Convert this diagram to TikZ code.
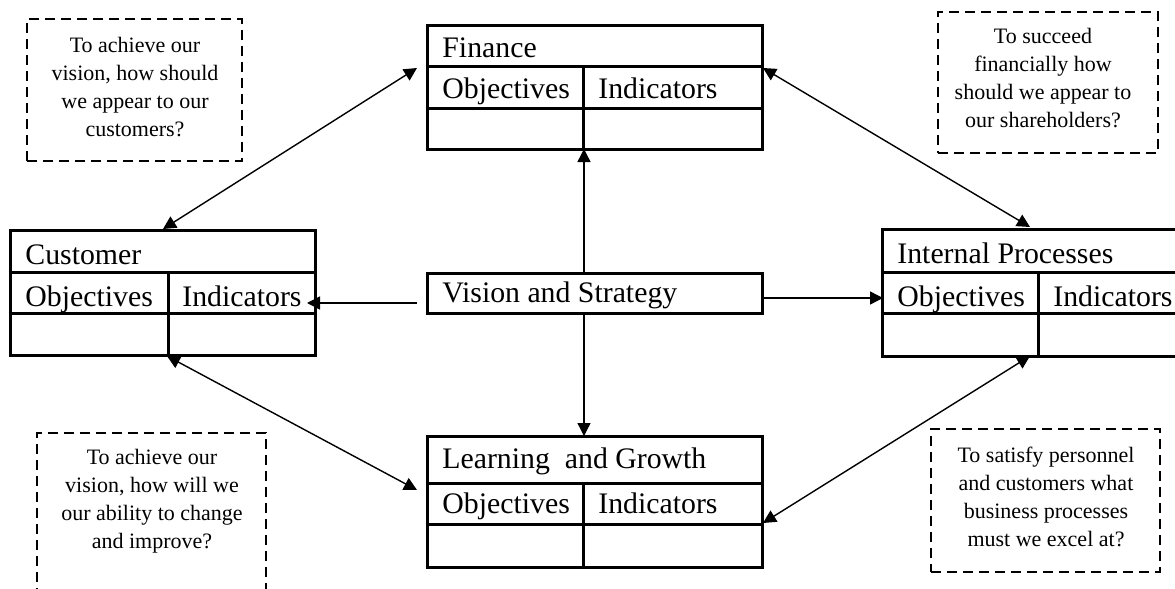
\documentclass[tikz,border=0pt]{standalone}
\usepackage{fontspec}
\setmainfont{Liberation Serif}
\usetikzlibrary{arrows.meta}
\begin{document}
\begin{tikzpicture}[x=0.5pt,y=-0.5pt,
 tbl/.style={draw, line width=1.5pt, inner sep=0pt},
 tline/.style={line width=1.5pt},
 ttext/.style={anchor=base west, inner sep=0pt, font=\fontsize{14.9}{17}\selectfont},
 qbox/.style={draw, line width=1.3pt, dash pattern=on 5pt off 3pt, inner sep=0pt},
 qtext/.style={align=center, inner sep=0pt, font=\fontsize{11}{14}\selectfont},
 conn/.style={line width=0.7pt, -{Triangle[length=6.5pt,width=6.5pt]}},
 both/.style={line width=0.7pt, {Triangle[length=6.5pt,width=6.5pt]}-{Triangle[length=6.5pt,width=6.5pt]}}]
\useasboundingbox (0,0) rectangle (1175,589);
\clip (0,0) rectangle (1175,589);
% Finance
\node[tbl, minimum width=167.5pt, minimum height=62pt] (fin) at (594.5,87) {};
\draw[tline] (fin.west |- 0,66) -- (fin.east |- 0,66);
\draw[tline] (fin.west |- 0,108) -- (fin.east |- 0,108);
\draw[tline] (583,66) -- (fin.south -| 583,0);
\node[ttext] (fint) at (442,57) {Finance};
\node[ttext] (fino) at (442,98) {Objectives};
\node[ttext] (fini) at (598,98) {Indicators};
% Customer
\node[tbl, minimum width=152.5pt, minimum height=62.5pt] (cus) at (162.5,292.5) {};
\draw[tline] (cus.west |- 0,272) -- (cus.east |- 0,272);
\draw[tline] (cus.west |- 0,313) -- (cus.east |- 0,313);
\draw[tline] (168,272) -- (cus.south -| 168,0);
\node[ttext] (cust) at (25,264) {Customer};
\node[ttext] (cuso) at (25,306) {Objectives};
\node[ttext] (cusi) at (182,306) {Indicators};
% Internal Processes
\node[tbl, minimum width=152.5pt, minimum height=63.5pt] (int) at (1034.5,292.5) {};
\draw[tline] (int.west |- 0,272) -- (int.east |- 0,272);
\draw[tline] (int.west |- 0,313) -- (int.east |- 0,313);
\draw[tline] (1038,272) -- (int.south -| 1038,0);
\node[ttext] (intt) at (897,263) {Internal Processes};
\node[ttext] (into) at (897,306) {Objectives};
\node[ttext] (inti) at (1053,306) {Indicators};
% Learning and Growth
\node[tbl, minimum width=167.5pt, minimum height=65.5pt] (lg) at (594.5,501.5) {};
\draw[tline] (lg.west |- 0,483) -- (lg.east |- 0,483);
\draw[tline] (lg.west |- 0,524) -- (lg.east |- 0,524);
\draw[tline] (583,483) -- (lg.south -| 583,0);
\node[ttext] (lgt) at (442,468) {Learning\ \ and Growth};
\node[ttext] (lgo) at (442,513) {Objectives};
\node[ttext] (lgi) at (598,513) {Indicators};
% Vision
\node[tbl, minimum width=167.5pt, minimum height=20pt] (vis) at (594.5,293) {};
\node[ttext] (vist) at (442,302) {Vision and Strategy};
% Question boxes
\node[qbox, minimum width=107.5pt, minimum height=71pt] (q1) at (134.5,90) {};
\node[qtext] (q1t) at (135,87) {To achieve our\\vision, how should\\we appear to our\\customers?};
\node[qbox, minimum width=110pt, minimum height=70.5pt] (q2) at (1048,82.5) {};
\node[qtext] (q2t) at (1043,78) {To succeed\\financially how\\should we appear to\\our shareholders?};
\node[qbox, minimum width=114.5pt, minimum height=93.5pt] (q3) at (151.5,526.5) {};
\node[qtext] (q3t) at (152,501) {To achieve our\\vision, how will we\\our ability to change\\and improve?};
\node[qbox, minimum width=114.5pt, minimum height=71.5pt] (q4) at (1045.5,500.5) {};
\node[qtext] (q4t) at (1046,497) {To satisfy personnel\\and customers what\\business processes\\must we excel at?};
% connector end points
\coordinate (finL) at (417,68);
\coordinate (finR) at (763,68);
\coordinate (finB) at (584,149);
\coordinate (cusT) at (163,229);
\coordinate (cusB) at (167,356);
\coordinate (cusR) at (307,303);
\coordinate (intT) at (1030,227);
\coordinate (intB) at (1030,356);
\coordinate (intL) at (883,298);
\coordinate (lgL) at (417,490);
\coordinate (lgR) at (763,523);
\coordinate (lgT) at (584,436);
\coordinate (visT) at (584,273);
\coordinate (visB) at (584,313);
\coordinate (visL) at (417,303);
\coordinate (visR) at (763,298);
% connectors
\draw[both] (cusT) -- (finL);
\draw[both] (finR) -- (intT);
\draw[both] (cusB) -- (lgL);
\draw[both] (intB) -- (lgR);
\draw[conn] (visT) -- (finB);
\draw[conn] (visB) -- (lgT);
\draw[conn] (visL) -- (cusR);
\draw[conn] (visR) -- (intL);
\end{tikzpicture}
\end{document}
